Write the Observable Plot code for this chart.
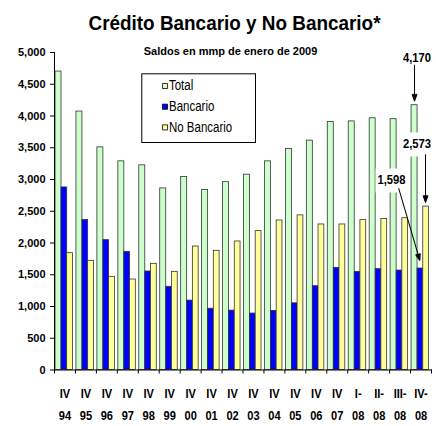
<!DOCTYPE html>
<html>
<head>
<meta charset="utf-8">
<script src="https://cdn.jsdelivr.net/npm/d3@7"></script>
<script src="https://cdn.jsdelivr.net/npm/@observablehq/plot@0.6"></script>
<style>
  html, body { margin: 0; padding: 0; background: #fff; }
</style>
</head>
<body>
<div id="chart"></div>
<script>
// ---- data ----
const line1 = ["IV","IV","IV","IV","IV","IV","IV","IV","IV","IV","IV","IV","IV","IV","I-","II-","III-","IV-"];
const line2 = ["94","95","96","97","98","99","00","01","02","03","04","05","06","07","08","08","08","08"];
const total      = [4700,4070,3506,3286,3223,2860,3039,2836,2958,3076,3286,3480,3612,3905,3915,3964,3950,4170];
const bancario   = [2875,2361,2045,1861,1551,1310,1093, 965, 935, 889, 930,1050,1320,1609,1546,1588,1566,1598];
const noBancario = [1840,1719,1467,1425,1672,1546,1945,1877,2024,2187,2355,2435,2292,2292,2360,2377,2390,2573];
const yTicks = [0,500,1000,1500,2000,2500,3000,3500,4000,4500,5000];
const seriesNames = ["Total","Bancario","No Bancario"];
const seriesColors = ["#ccffcc","#0000ff","#ffff99"];
const titleText = "Crédito Bancario y No Bancario*";
const subtitleText = "Saldos en mmp de enero de 2009";
const annoLabels = ["4,170","2,573","1,598"];
const annoValues = [4170, 2573, 1598];

// ---- build table ----
const periods = line1.map((a, i) => a + " " + line2[i]);
const rows = periods.map((p, i) => ({period: p, l1: line1[i], l2: line2[i], total: total[i], bancario: bancario[i], noBancario: noBancario[i]}));
const last = periods[periods.length - 1];

const SANS = "'Liberation Sans', Arial, Helvetica, sans-serif";

const W = 436, H = 426;
const mL = 54, mR = 5, mT = 52, mB = 56.5;
const bw = (W - mL - mR) / periods.length;
const frameH = H - mT - mB;

const arrowShape = {
  draw(ctx, l) {
    ctx.moveTo(0, 0);
    ctx.lineTo(0, -l + 5);
    ctx.moveTo(-2.3, -l + 6.5);
    ctx.lineTo(0, -l);
    ctx.lineTo(2.3, -l + 6.5);
    ctx.closePath();
  }
};
// white label background box (width 32, height 24, centred)
const boxShape = {
  draw(ctx) { ctx.rect(-16, -11, 32, 24); }
};

const barStyle = {stroke: "#333", strokeWidth: 0.8};
const txt = {fontFamily: SANS, lineAnchor: "middle", fill: "#000"};

const chart = Plot.plot({
  width: W, height: H,
  marginLeft: mL, marginRight: mR, marginTop: mT, marginBottom: mB,
  style: {fontFamily: SANS, background: "#fff"},
  x: {type: "band", domain: periods, padding: 0, round: false, axis: null},
  y: {domain: [0, 5000], axis: null},
  marks: [
    // bars
    Plot.barY(rows, {x: "period", y: "total", fill: seriesColors[0], ...barStyle, insetLeft: 1, insetRight: bw - 7}),
    Plot.barY(rows, {x: "period", y: "bancario", fill: seriesColors[1], ...barStyle, insetLeft: 7, insetRight: bw - 12.7}),
    Plot.barY(rows, {x: "period", y: "noBancario", fill: seriesColors[2], ...barStyle, insetLeft: 12.7, insetRight: bw - 18.5}),
    // axes lines
    Plot.frame({anchor: "left", stroke: "#000"}),
    Plot.frame({anchor: "bottom", stroke: "#000"}),
    Plot.axisY({ticks: yTicks, tickFormat: d3.format(","), tickSize: 4, tickPadding: 5,
      fontWeight: "bold", fontSize: 11, fontFamily: SANS, stroke: "#000"}),
    // x boundary ticks
    Plot.ruleX(periods, {x: d => d, dx: -bw / 2, insetTop: frameH, insetBottom: -4, stroke: "#000"}),
    Plot.ruleX([last], {x: d => d, dx: bw / 2, insetTop: frameH, insetBottom: -4, stroke: "#000"}),
    // x labels (two lines)
    Plot.text(rows, {x: "period", text: "l1", frameAnchor: "bottom", dy: 24, fontWeight: "bold", fontSize: 13, ...txt, className: "sq-85"}),
    Plot.text(rows, {x: "period", text: "l2", frameAnchor: "bottom", dy: 45.5, fontWeight: "bold", fontSize: 13, ...txt, className: "sq-85"}),
    // title and subtitle
    Plot.text([titleText], {text: d => d, frameAnchor: "top", dx: -8.5, dy: -29, fontWeight: "bold", fontSize: 21, ...txt, className: "sq-90"}),
    Plot.text([subtitleText], {text: d => d, frameAnchor: "top", dx: -12.5, dy: -1, fontWeight: "bold", fontSize: 11, ...txt}),
    // legend
    Plot.frame({insetLeft: 87.3, insetRight: 176, insetTop: 21.3, insetBottom: 227.5, stroke: "#000", fill: "#fff"}),
    ...seriesNames.flatMap((name, i) => [
      Plot.dot([name], {frameAnchor: "top-left", dx: 110.5, dy: 33.5 + i * 20.7, symbol: "square", r: 2.9, fill: seriesColors[i], stroke: "#000", strokeWidth: 0.8}),
      Plot.text([name], {text: d => d, frameAnchor: "top-left", dx: 114.5, dy: 33.5 + i * 20.7, textAnchor: "start", fontSize: 14, ...txt, className: "sq-82"})
    ]),
    // annotations: white label boxes
    Plot.vector([annoValues[1]], {x: () => last, y: d => d, dx: -1.5, dy: -63, length: 1, anchor: "start", shape: boxShape, fill: "#fff", stroke: "none"}),
    Plot.vector([annoValues[2]], {x: () => last, y: d => d, dx: -29.5, dy: -89, length: 1, anchor: "start", shape: boxShape, fill: "#fff", stroke: "none"}),
    // annotations: arrows
    Plot.vector([annoValues[0]], {x: () => last, y: d => d, dx: -6.5, dy: -4, length: 36, rotate: 180, anchor: "end", shape: arrowShape, stroke: "#000", fill: "#000", strokeWidth: 1}),
    Plot.vector([annoValues[1]], {x: () => last, y: d => d, dx: 4.5, dy: -4, length: 48, rotate: 180, anchor: "end", shape: arrowShape, stroke: "#000", fill: "#000", strokeWidth: 1}),
    Plot.vector([annoValues[2]], {x: () => last, y: d => d, dx: -1.2, dy: -8, length: 75, rotate: 163.7, anchor: "end", shape: arrowShape, stroke: "#000", fill: "#000", strokeWidth: 1}),
    // annotation labels
    Plot.text([0], {x: () => last, y: () => annoValues[0], text: () => annoLabels[0], dx: -4, dy: -48, fontWeight: "bold", fontSize: 13.5, ...txt, className: "sq-83"}),
    Plot.text([1], {x: () => last, y: () => annoValues[1], text: () => annoLabels[1], dx: -4, dy: -63, fontWeight: "bold", fontSize: 12.5, ...txt, className: "sq-90"}),
    Plot.text([2], {x: () => last, y: () => annoValues[2], text: () => annoLabels[2], dx: -29.5, dy: -89, fontWeight: "bold", fontSize: 13.5, ...txt, className: "sq-83"})
  ]
});
document.getElementById("chart").appendChild(chart);

// condense text of marks tagged sq-NN (the reference uses a narrow typeface)
chart.querySelectorAll("g[class*='sq-']").forEach(g => {
  const m = g.getAttribute("class").match(/sq-(\d+)/);
  if (!m) return;
  const f = +m[1] / 100;
  g.querySelectorAll("text").forEach(t => {
    const len = t.getComputedTextLength();
    if (len > 0) {
      t.setAttribute("textLength", (len * f).toFixed(2));
      t.setAttribute("lengthAdjust", "spacingAndGlyphs");
    }
  });
});
</script>
</body>
</html>
